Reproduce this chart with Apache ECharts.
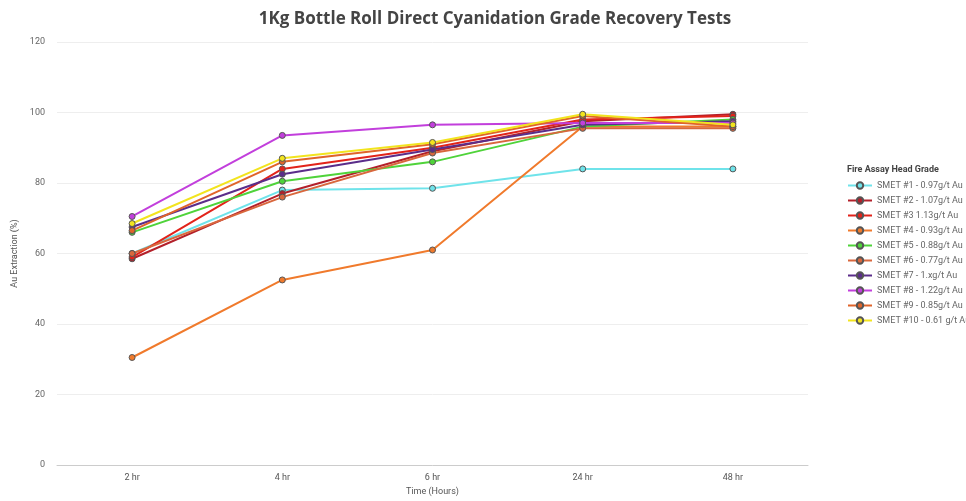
<!DOCTYPE html>
<html>
<head>
<meta charset="utf-8">
<script src="https://cdn.jsdelivr.net/npm/echarts@6/dist/echarts.min.js"></script>
<style>html,body{margin:0;padding:0;background:#fff}#main{width:966px;height:501px}</style>
</head>
<body>
<div id="main"></div>
<script>
var hours = ['2 hr', '4 hr', '6 hr', '24 hr', '48 hr'];
var names = [
  'SMET #1 - 0.97g/t Au', 'SMET #2 - 1.07g/t Au', 'SMET #3 1.13g/t Au',
  'SMET #4 - 0.93g/t Au', 'SMET #5 - 0.88g/t Au', 'SMET #6 - 0.77g/t Au',
  'SMET #7 - 1.xg/t Au', 'SMET #8 - 1.22g/t Au', 'SMET #9 - 0.85g/t Au',
  'SMET #10 - 0.61 g/t Au'
];
var colors = ['#6fe3ea', '#b3202a', '#e2231a', '#f07a2c', '#4fd33a', '#d9673d', '#5a2d8a', '#c23fdc', '#e0642a', '#f2e41e'];
var smet1 = [60, 78, 78.5, 84, 84];
var smet2 = [58.5, 77, 89, 97.5, 99.5];
var smet3 = [59, 84, 90, 98, 99];
var smet4 = [30.5, 52.5, 61, 96, 96];
var smet5 = [66, 80.5, 86, 96, 98];
var smet6 = [60, 76, 88.5, 95.5, 95.5];
var smet7 = [67.5, 82.5, 89.5, 96.5, 97.5];
var smet8 = [70.5, 93.5, 96.5, 97, 97];
var smet9 = [66.5, 86, 91, 99, 96];
var smet10 = [68.5, 87, 91.5, 99.5, 96.5];
var allData = [smet1, smet2, smet3, smet4, smet5, smet6, smet7, smet8, smet9, smet10];

var chart = echarts.init(document.getElementById('main'));
var series = [];
for (var i = 0; i < names.length; i++) {
  series.push({
    name: names[i],
    type: 'line',
    data: allData[i],
    symbol: 'circle',
    symbolSize: 6,
    lineStyle: { width: 2, color: colors[i] },
    itemStyle: { color: colors[i], borderColor: '#555', borderWidth: 1 }
  });
}
chart.setOption({
  animation: false,
  color: colors,
  title: [
    {
      text: '1Kg Bottle Roll Direct Cyanidation Grade Recovery Tests',
      left: 490, top: 6, textAlign: 'center',
      textStyle: { fontFamily: 'Open Sans', fontSize: 17, fontWeight: 'bold', color: '#444' }
    },
    {
      text: 'Fire Assay Head Grade',
      left: 842, top: 160,
      textStyle: { fontFamily: 'Roboto', fontSize: 9, fontWeight: 'bold', color: '#444' }
    }
  ],
  legend: {
    orient: 'vertical',
    left: 842, top: 176,
    itemWidth: 24, itemHeight: 8, itemGap: 6,
    textStyle: { fontFamily: 'Roboto', fontSize: 9, color: '#666' },
    data: names
  },
  grid: { left: 57, right: 158, top: 42, bottom: 33 },
  xAxis: {
    type: 'category',
    data: hours,
    name: 'Time (Hours)',
    nameLocation: 'middle',
    nameGap: 22,
    nameTextStyle: { fontFamily: 'Roboto', fontSize: 9, color: '#555' },
    axisLine: { lineStyle: { color: '#ccc' } },
    axisTick: { show: false },
    axisLabel: { fontFamily: 'Roboto', fontSize: 9, color: '#555' }
  },
  yAxis: {
    type: 'value',
    min: 0, max: 120, interval: 20,
    name: 'Au Extraction (%)',
    nameLocation: 'middle',
    nameGap: 30,
    nameTextStyle: { fontFamily: 'Roboto', fontSize: 9, color: '#555' },
    axisLine: { show: false },
    axisTick: { show: false },
    axisLabel: { fontFamily: 'Roboto', fontSize: 9, color: '#666', margin: 12 },
    splitLine: { lineStyle: { color: '#eee' } }
  },
  series: series
});
</script>
</body>
</html>
